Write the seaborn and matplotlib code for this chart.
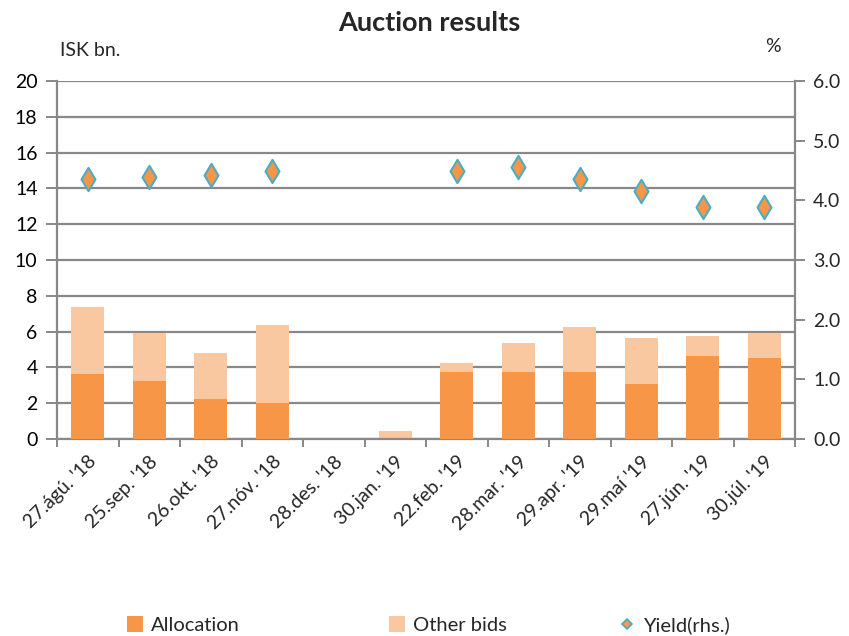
import numpy as np
import pandas as pd
import matplotlib
matplotlib.use("Agg")
import matplotlib.pyplot as plt
import seaborn as sns
from matplotlib.lines import Line2D
from matplotlib.patches import Patch

dates = ["27.ágú. '18", "25.sep. '18", "26.okt. '18", "27.nóv. '18", "28.des. '18",
         "30.jan. '19", "22.feb. '19", "28.mar. '19", "29.apr. '19", "29.maí '19",
         "27.jún. '19", "30.júl. '19"]
allocation = [3.65, 3.22, 2.22, 2.0, 0.0, 0.0, 3.76, 3.76, 3.76, 3.1, 4.66, 4.55]
other_bids = [3.7, 2.68, 2.58, 4.36, 0.0, 0.45, 0.47, 1.6, 2.47, 2.57, 1.12, 1.36]
yield_rhs = [4.36, 4.39, 4.42, 4.49, np.nan, np.nan, 4.49, 4.56, 4.36, 4.16, 3.89, 3.89]

ALLOC_C = "#F79646"
OTHER_C = "#FAC8A0"
EDGE_C = "#4BACC6"
GRID_C = "#888888"

sns.set_theme(style="white")
plt.rcParams["font.family"] = ["Lato", "DejaVu Sans"]

df = pd.DataFrame({"date": dates, "allocation": allocation, "other": other_bids})
df["total"] = df["allocation"] + df["other"]

fig = plt.figure(figsize=(8.49, 6.36), dpi=100)
ax = fig.add_axes([57 / 849, 1 - 439 / 636, (795 - 57) / 849, (439 - 81) / 636])

# stacked bars: total (allocation + other bids) behind, allocation in front
sns.barplot(data=df, x="date", y="total", color=OTHER_C, saturation=1, width=0.54,
            linewidth=0, ax=ax, zorder=2)
sns.barplot(data=df, x="date", y="allocation", color=ALLOC_C, saturation=1, width=0.54,
            linewidth=0, ax=ax, zorder=3)

ax.set_ylim(0, 20)
ax.set_yticks(np.arange(0, 21, 2))
ax.set_xlim(-0.5, len(dates) - 0.5)
ax.set_xlabel("")
ax.set_ylabel("")
ax.yaxis.grid(True, color=GRID_C, linewidth=1.6, zorder=0)
ax.set_axisbelow(True)

for side in ["left", "right", "bottom"]:
    ax.spines[side].set_color(GRID_C)
    ax.spines[side].set_linewidth(1.6)
ax.spines["top"].set_visible(False)

ax.tick_params(axis="y", which="major", left=True, length=8, width=1.4, color=GRID_C,
               labelsize=14, pad=6, labelcolor="black")
ax.set_xticks(np.arange(len(dates)))
ax.set_xticklabels(dates, rotation=45, ha="right", rotation_mode="anchor",
                   fontsize=14)
ax.tick_params(axis="x", which="major", bottom=False, length=0, pad=10)
ax.set_xticks(np.arange(-0.5, len(dates), 1.0), minor=True)
ax.tick_params(axis="x", which="minor", bottom=True, length=6, width=1.4, color=GRID_C)

ax2 = ax.twinx()
sns.scatterplot(x=np.arange(len(dates)), y=yield_rhs, marker="d", s=140,
                color=ALLOC_C, edgecolor=EDGE_C, linewidth=1.5, ax=ax2, zorder=5,
                legend=False)
ax2.set_ylim(0, 6)
ax2.set_yticks(np.arange(0, 6.1, 1.0))
ax2.set_yticklabels([f"{v:.1f}" for v in np.arange(0, 6.1, 1.0)])
ax2.tick_params(axis="y", right=True, length=7, width=1.4, color=GRID_C,
                labelsize=14, pad=6)
ax2.grid(False)
for side in ["left", "right", "bottom", "top"]:
    ax2.spines[side].set_visible(False)
ax2.set_xlim(-0.5, len(dates) - 0.5)

fig.text(0.506, 1 - 23 / 636, "Auction results", ha="center", va="center",
         fontsize=19.5, fontweight="bold")
fig.text(60 / 849, 1 - 50 / 636, "ISK bn.", ha="left", va="center", fontsize=14)
fig.text(773 / 849, 1 - 46 / 636, "%", ha="center", va="center", fontsize=14)

# legend entries placed individually along the bottom
entries = [
    (Patch(facecolor=ALLOC_C, edgecolor="none"), "Allocation", 127),
    (Patch(facecolor=OTHER_C, edgecolor="none"), "Other bids", 389),
    (Line2D([], [], linestyle="none", marker="D", markersize=5.5,
            markerfacecolor=ALLOC_C, markeredgecolor=EDGE_C, markeredgewidth=1.2),
     "Yield(rhs.)", 619),
]
for handle, label, xpix in entries:
    fig.legend([handle], [label], loc="center left",
               bbox_to_anchor=(xpix / 849, 1 - 625 / 636), frameon=False,
               fontsize=14.5, handlelength=0.8, handleheight=0.8, handletextpad=0.4,
               borderpad=0, borderaxespad=0)

fig.savefig("out.png", dpi=100)
